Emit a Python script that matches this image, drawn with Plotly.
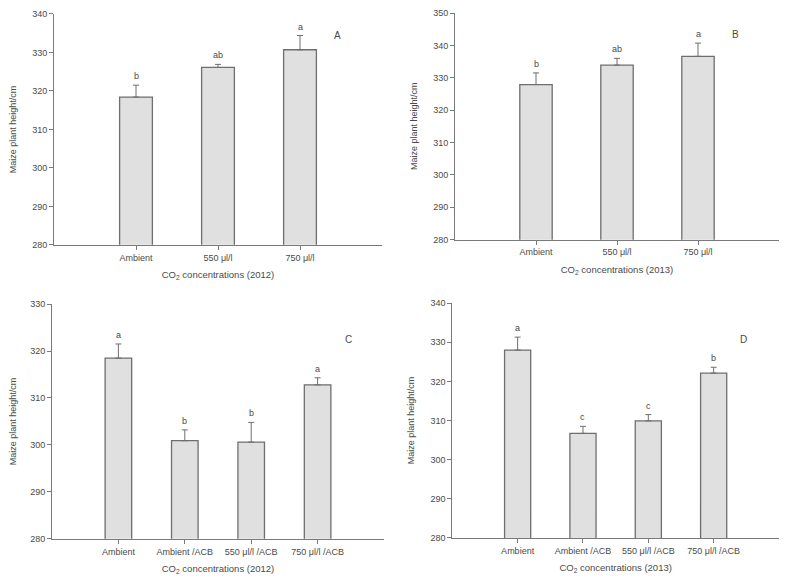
import plotly.graph_objects as go

# ---- data ----
cats_ab = ["Ambient", "550 μl/l", "750 μl/l"]
cats_cd = ["Ambient", "Ambient /ACB", "550 μl/l /ACB", "750 μl/l /ACB"]

mean_a = [318.4, 326.1, 330.7]
err_a = [3.1, 0.8, 3.7]
let_a = ["b", "ab", "a"]

mean_b = [327.9, 333.9, 336.6]
err_b = [3.6, 2.1, 4.1]
let_b = ["b", "ab", "a"]

mean_c = [318.5, 300.9, 300.6, 312.8]
err_c = [3.0, 2.3, 4.2, 1.5]
let_c = ["a", "b", "b", "a"]

mean_d = [328.0, 306.7, 309.9, 322.1]
err_d = [3.3, 1.8, 1.6, 1.5]
let_d = ["a", "c", "c", "b"]

yranges = [[280, 340], [280, 350], [280, 330], [280, 340]]
ydticks = [10, 10, 10, 10]
xtitles = ["CO<sub>2</sub> concentrations (2012)", "CO<sub>2</sub> concentrations (2013)",
           "CO<sub>2</sub> concentrations (2012)", "CO<sub>2</sub> concentrations (2013)"]
panel_labels = ["A", "B", "C", "D"]
ytitle = "Maize plant height/cm"

panels = [
    (cats_ab, mean_a, err_a, let_a),
    (cats_ab, mean_b, err_b, let_b),
    (cats_cd, mean_c, err_c, let_c),
    (cats_cd, mean_d, err_d, let_d),
]

# page body has an 8px margin; size the figure to fit inside the window
OFF = 8
W, H = 787 - 2 * OFF, 583 - 2 * OFF
# target pixel boxes in the window: (x0, x1, ytop, ybottom)
boxes = [(54, 382, 9, 244), (455, 780, 5, 238.7), (52, 384, 304.3, 543.3), (452.3, 785.7, 303.3, 542.3)]
label_pos = [(0.881, 0.94), (0.883, 0.94), (0.91, 0.881), (0.908, 0.877)]

FONT = "Liberation Sans, Arial, sans-serif"
TXT = "#4a4a4a"
AXC = "#7a7a7a"


def px_x(v):
    return (v - OFF) / W


def px_y(v):
    return 1 - (v - OFF) / H


fig = go.Figure()
layout = dict(width=W, height=H, margin=dict(l=0, r=0, t=0, b=0),
              paper_bgcolor="white", plot_bgcolor="white", showlegend=False,
              font=dict(family=FONT, size=9, color=TXT))
annotations = []

for i, (cats, means, errs, lets) in enumerate(panels):
    n = i + 1
    xa = "x" if n == 1 else f"x{n}"
    ya = "y" if n == 1 else f"y{n}"
    fig.add_trace(go.Bar(
        x=cats, y=means, xaxis=xa, yaxis=ya, width=0.4,
        marker=dict(color="#e0e0e0", line=dict(color="#6e6e6e", width=1.3)),
        error_y=dict(type="data", symmetric=False, array=errs,
                     arrayminus=[0] * len(errs), color="#6e6e6e",
                     thickness=1, width=3),
    ))
    x0, x1, yt, yb = boxes[i]
    xkey = "xaxis" if n == 1 else f"xaxis{n}"
    ykey = "yaxis" if n == 1 else f"yaxis{n}"
    layout[xkey] = dict(
        domain=[max(0, px_x(x0)), min(1, px_x(x1))], anchor=ya, type="category",
        range=[-1, len(cats)], showline=True, linecolor=AXC, linewidth=1,
        ticks="outside", ticklen=4, tickcolor=AXC, showgrid=False,
        tickfont=dict(size=9, color=TXT),
        title=dict(text=xtitles[i], font=dict(size=9.5, color=TXT), standoff=9),
    )
    layout[ykey] = dict(
        domain=[max(0, px_y(yb)), min(1, px_y(yt))], anchor=xa,
        range=yranges[i], dtick=ydticks[i], showline=True, linecolor=AXC,
        linewidth=1, ticks="outside", ticklen=4, tickcolor=AXC,
        showgrid=False, zeroline=False, tickfont=dict(size=9, color=TXT),
        title=dict(text=ytitle, font=dict(size=9, color=TXT), standoff=14),
    )
    for c, m, e, l in zip(cats, means, errs, lets):
        annotations.append(dict(x=c, y=m + e, xref=xa, yref=ya, text=l,
                                showarrow=False, yanchor="bottom", yshift=2,
                                font=dict(size=9, color=TXT)))
    lx, ly = label_pos[i]
    annotations.append(dict(x=lx, y=ly, xref=f"{xa} domain", yref=f"{ya} domain",
                            text=panel_labels[i], showarrow=False,
                            font=dict(size=10, color=TXT)))

layout["annotations"] = annotations
fig.update_layout(**layout)
fig.write_html("out.html")
